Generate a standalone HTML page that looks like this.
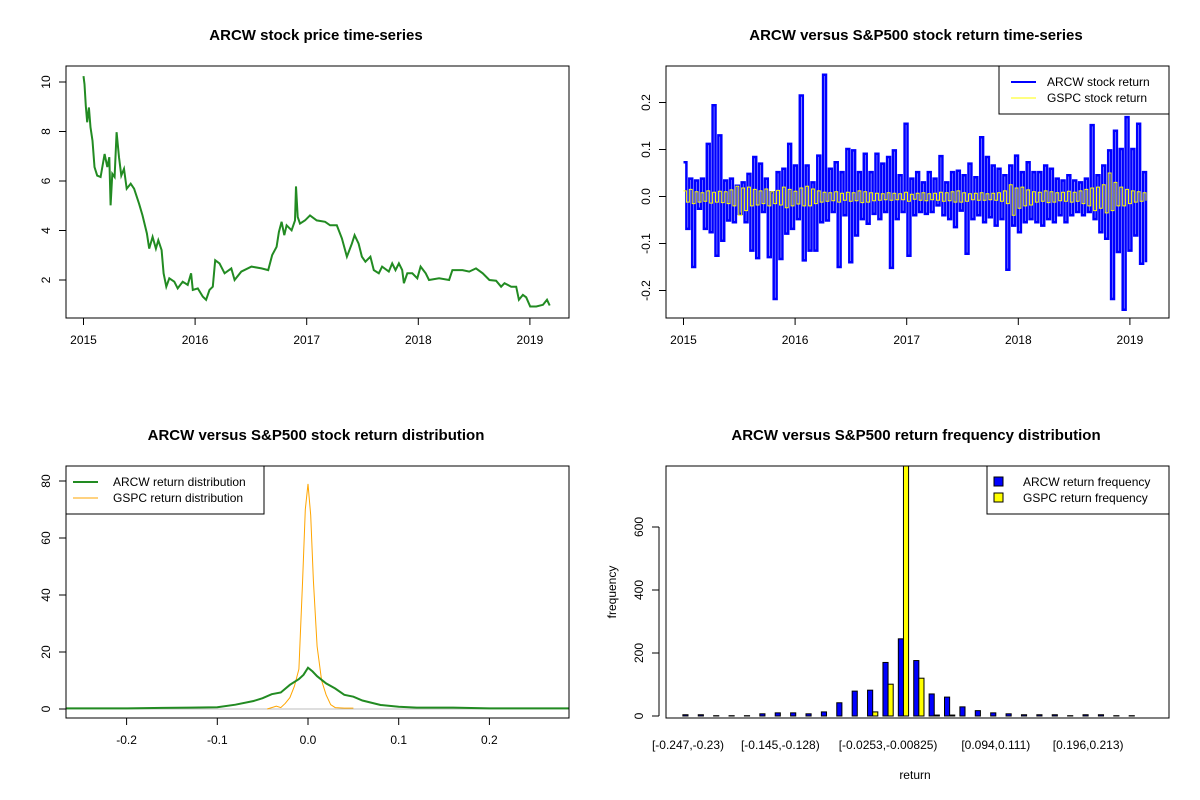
<!DOCTYPE html>
<html><head><meta charset="utf-8"><style>
html,body{margin:0;padding:0;background:#fff;}
svg{display:block;font-family:"Liberation Sans",Arial,sans-serif;}
.t{font-size:12px;fill:#000;}
.ti{font-size:15px;font-weight:bold;fill:#000;}
</style></head><body>
<svg id="c" width="1200" height="800" viewBox="0 0 1200 800"></svg>
<script>
// ---- Panel 1: ARCW price ----
const priceT=[0.00,0.009,0.021,0.033,0.048,0.063,0.081,0.099,0.123,0.153,0.189,0.213,0.231,0.243,0.258,0.279,0.297,0.318,0.339,0.363,0.387,0.423,0.453,0.498,0.529,0.568,0.589,0.619,0.649,0.670,0.700,0.718,0.742,0.769,0.814,0.844,0.889,0.934,0.964,0.979,1.024,1.069,1.099,1.129,1.159,1.180,1.219,1.264,1.324,1.354,1.414,1.505,1.595,1.655,1.691,1.730,1.751,1.775,1.799,1.820,1.865,1.895,1.904,1.919,1.940,1.985,2.030,2.090,2.165,2.210,2.270,2.315,2.360,2.405,2.429,2.465,2.495,2.526,2.571,2.601,2.646,2.676,2.736,2.766,2.796,2.826,2.856,2.871,2.901,2.946,2.991,3.021,3.066,3.096,3.186,3.276,3.306,3.396,3.456,3.517,3.577,3.637,3.697,3.742,3.772,3.832,3.877,3.901,3.937,3.967,4.003,4.057,4.117,4.153,4.177];
const priceV=[10.24,9.91,9.04,8.37,8.97,8.17,7.63,6.56,6.22,6.16,7.09,6.56,6.96,5.02,6.29,6.16,7.97,6.96,6.22,6.49,5.69,5.89,5.69,5.08,4.61,3.88,3.27,3.74,3.27,3.61,3.21,2.27,1.73,2.07,1.93,1.66,1.93,1.80,2.27,1.60,1.66,1.33,1.20,1.60,1.73,2.80,2.67,2.27,2.47,2.00,2.34,2.54,2.47,2.40,3.01,3.34,3.94,4.35,3.81,4.21,4.01,4.41,5.78,4.55,4.28,4.41,4.61,4.41,4.35,4.21,4.21,3.68,2.94,3.47,3.81,3.47,2.94,2.74,2.94,2.40,2.27,2.54,2.34,2.67,2.40,2.67,2.40,1.87,2.27,2.27,2.07,2.54,2.27,2.00,2.07,2.00,2.40,2.40,2.34,2.47,2.27,2.00,1.97,1.73,1.87,1.73,1.73,1.20,1.40,1.30,0.93,0.93,1.00,1.20,0.97];
const priceYTicks=[2,4,6,8,10];
const yearTicks=[2015,2016,2017,2018,2019];
// ---- Panel 2: returns (alternating up/down values) ----
const arcwUp=[0.073,0.038,0.034,0.038,0.112,0.194,0.13,0.034,0.038,0.023,0.03,0.048,0.084,0.07,0.038,0.009,0.052,0.059,0.112,0.066,0.215,0.066,0.03,0.087,0.259,0.059,0.073,0.052,0.101,0.098,0.052,0.091,0.052,0.091,0.07,0.084,0.098,0.045,0.155,0.038,0.052,0.03,0.052,0.038,0.086,0.03,0.052,0.055,0.045,0.07,0.041,0.126,0.084,0.066,0.059,0.045,0.066,0.087,0.052,0.073,0.052,0.052,0.066,0.059,0.038,0.034,0.045,0.034,0.03,0.038,0.152,0.045,0.066,0.098,0.14,0.101,0.169,0.101,0.155,0.052];
const arcwDown=[-0.069,-0.15,-0.026,-0.069,-0.076,-0.126,-0.094,-0.051,-0.055,-0.037,-0.055,-0.115,-0.131,-0.033,-0.129,-0.218,-0.133,-0.079,-0.069,-0.048,-0.136,-0.115,-0.115,-0.055,-0.051,-0.033,-0.15,-0.04,-0.14,-0.083,-0.048,-0.058,-0.037,-0.048,-0.033,-0.152,-0.048,-0.033,-0.126,-0.04,-0.033,-0.037,-0.033,-0.019,-0.04,-0.048,-0.065,-0.03,-0.122,-0.048,-0.04,-0.055,-0.044,-0.062,-0.048,-0.156,-0.062,-0.076,-0.055,-0.048,-0.055,-0.062,-0.048,-0.055,-0.04,-0.055,-0.04,-0.033,-0.04,-0.033,-0.048,-0.076,-0.09,-0.218,-0.118,-0.241,-0.115,-0.083,-0.143,-0.14];
const gspcUp=[0.012,0.015,0.01,0.008,0.012,0.009,0.011,0.01,0.014,0.022,0.018,0.02,0.015,0.012,0.016,0.01,0.013,0.02,0.015,0.011,0.018,0.022,0.016,0.012,0.009,0.008,0.01,0.007,0.009,0.008,0.012,0.01,0.008,0.007,0.006,0.008,0.007,0.006,0.009,0.005,0.007,0.008,0.006,0.007,0.009,0.008,0.01,0.012,0.008,0.006,0.007,0.008,0.006,0.007,0.008,0.012,0.025,0.018,0.02,0.014,0.01,0.009,0.012,0.01,0.008,0.009,0.011,0.009,0.012,0.015,0.018,0.02,0.025,0.05,0.03,0.02,0.015,0.012,0.01,0.008];
const gspcDown=[-0.012,-0.015,-0.012,-0.01,-0.014,-0.012,-0.013,-0.015,-0.02,-0.04,-0.03,-0.02,-0.018,-0.015,-0.02,-0.015,-0.018,-0.024,-0.02,-0.016,-0.02,-0.02,-0.015,-0.012,-0.01,-0.009,-0.012,-0.008,-0.01,-0.009,-0.013,-0.012,-0.009,-0.008,-0.007,-0.008,-0.007,-0.007,-0.01,-0.006,-0.008,-0.009,-0.007,-0.008,-0.01,-0.009,-0.012,-0.012,-0.01,-0.007,-0.008,-0.008,-0.007,-0.008,-0.01,-0.015,-0.04,-0.025,-0.02,-0.018,-0.012,-0.01,-0.013,-0.012,-0.009,-0.01,-0.012,-0.01,-0.015,-0.02,-0.03,-0.025,-0.035,-0.03,-0.02,-0.02,-0.015,-0.012,-0.01,-0.009];
const retYTicks=[-0.2,-0.1,0.0,0.1,0.2];
// ---- Panel 3: densities ----
const arcwDX=[-0.27,-0.2,-0.16,-0.13,-0.1,-0.08,-0.06,-0.05,-0.04,-0.03,-0.02,-0.01,-0.005,0,0.005,0.01,0.02,0.03,0.04,0.05,0.06,0.08,0.1,0.12,0.16,0.2,0.29];
const arcwDY=[0.2,0.2,0.4,0.5,0.6,1.5,2.8,3.8,5.2,5.8,8.5,10.5,12,14.5,13.2,11.5,9,7.2,5,4.3,3,1.4,0.8,0.5,0.5,0.2,0.2];
const gspcDX=[-0.045,-0.04,-0.035,-0.03,-0.025,-0.02,-0.015,-0.01,-0.006,-0.003,0,0.003,0.006,0.01,0.015,0.02,0.025,0.03,0.04,0.05];
const gspcDY=[0,0.5,1,0.5,2,4,8,14,45,70,79,68,45,22,10,5,1.5,0.5,0.3,0.3];
const densXTicks=[-0.2,-0.1,0.0,0.1,0.2];
const densYTicks=[0,20,40,60,80];
// ---- Panel 4: histogram ----
const binLabels=["[-0.247,-0.23)","[-0.145,-0.128)","[-0.0253,-0.00825)","[0.094,0.111)","[0.196,0.213)"];
const binLabelIdx=[0,6,13,20,26];
const arcwFreq=[4,4,1,1,1,7,10,10,7,13,42,79,82,170,245,176,70,60,29,17,10,7,4,4,4,1,4,4,1,1];
const gspcFreq=[0,0,0,0,0,0,0,0,0,0,0,0,13,101,880,120,3,3,0,0,0,0,0,0,0,0,0,0,0,0];
const freqYTicks=[0,200,400,600];

const svg=document.getElementById('c');
const NS='http://www.w3.org/2000/svg';
function mk(tag,attrs,parent){const e=document.createElementNS(NS,tag);for(const k in attrs)e.setAttribute(k,attrs[k]);(parent||svg).appendChild(e);return e;}
function txt(x,y,s,cls,anchor,rot,parent){const e=mk('text',{x:x,y:y,class:cls,'text-anchor':anchor||'middle'},parent);if(rot)e.setAttribute('transform','rotate(-90 '+x+' '+y+')');e.textContent=s;return e;}
function panel(name){const g=mk('g',{});return g;}
function box(g,x0,y0,x1,y1){const r=mk('rect',{x:x0,y:y0,width:x1-x0,height:y1-y0,fill:'none',stroke:'#000','stroke-width':1},g);}
function xAxis(g,ticks,fx,y,fmt){const a=mk('g',{},g);
 mk('line',{x1:fx(ticks[0]),x2:fx(ticks[ticks.length-1]),y1:y,y2:y,stroke:'#000'},a);
 ticks.forEach(t=>{mk('line',{x1:fx(t),x2:fx(t),y1:y,y2:y+7,stroke:'#000'},a);txt(fx(t),y+26,fmt(t),'t','middle',false,a);});}
function yAxis(g,ticks,fy,x,fmt){const a=mk('g',{},g);
 mk('line',{x1:x,x2:x,y1:fy(ticks[0]),y2:fy(ticks[ticks.length-1]),stroke:'#000'},a);
 ticks.forEach(t=>{mk('line',{x1:x,x2:x-7,y1:fy(t),y2:fy(t),stroke:'#000'},a);txt(x-16,fy(t),fmt(t),'t','middle',true,a);});}
function poly(g,pts,color,w,name){const p=mk('polyline',{points:pts.map(p=>p[0].toFixed(1)+','+p[1].toFixed(1)).join(' '),fill:'none',stroke:color,'stroke-width':w,'stroke-linejoin':'miter'},g);return p;}
function stepPts(vals){const o=[];vals.forEach((p,i)=>{if(i>0)o.push([p[0],vals[i-1][1]]);o.push(p);});return o;}

// Panel 1
{const g=panel('price-panel');
 const fx=t=>83.5+(t-2015)*111.6, fy=v=>280-(v-2)*24.75;
 txt(316,40,'ARCW stock price time-series','ti','middle',false,g);
 poly(g,priceT.map((t,i)=>[fx(2015+t),fy(priceV[i])]),'#228B22',2,'price-line');
 box(g,66,66,569,318);
 xAxis(g,yearTicks,fx,318,t=>String(t));
 yAxis(g,priceYTicks,fy,66,t=>String(t));}

// Panel 2
{const g=panel('returns-panel');
 const fx=t=>683.5+(t-2015)*111.6, fy=v=>196.5-v*470;
 txt(916,40,'ARCW versus S&P500 stock return time-series','ti','middle',false,g);
 const n=arcwUp.length, span=4.17;
 const a=[];arcwUp.forEach((u,i)=>{const t=2015+span*i/n;a.push([fx(t),fy(u)]);a.push([fx(t+span/(2*n)),fy(arcwDown[i])]);});
 poly(g,stepPts(a),'#0000FF',2.5,'arcw-return-line');
 const m=gspcUp.length,b=[];gspcUp.forEach((u,i)=>{const t=2015+span*i/m;b.push([fx(t),fy(u)]);b.push([fx(t+span/(2*m)),fy(gspcDown[i])]);});
 poly(g,stepPts(b),'#FFFF00',1,'gspc-return-line');
 box(g,666,66,1169,318);
 xAxis(g,yearTicks,fx,318,t=>String(t));
 yAxis(g,retYTicks,fy,666,t=>t.toFixed(1));
 const L=mk('g',{},g);
 mk('rect',{x:999,y:66,width:170,height:48,fill:'#fff',stroke:'#000'},L);
 mk('line',{x1:1011,x2:1036,y1:82,y2:82,stroke:'#0000FF','stroke-width':2},L);
 mk('line',{x1:1011,x2:1036,y1:98,y2:98,stroke:'#FFFF00','stroke-width':1},L);
 txt(1047,86,'ARCW stock return','t','start',false,L);txt(1047,102,'GSPC stock return','t','start',false,L);}

// Panel 3
{const g=panel('density-panel');
 const fx=v=>308+v*907, fy=v=>709-v*2.85;
 txt(316,440,'ARCW versus S&P500 stock return distribution','ti','middle',false,g);
 const z=mk('line',{x1:66,x2:569,y1:fy(0),y2:fy(0),stroke:'#bebebe'},g);
 poly(g,gspcDX.map((x,i)=>[fx(x),fy(gspcDY[i])]),'#FFA500',1,'gspc-density-line');
 poly(g,arcwDX.map((x,i)=>[Math.max(66,Math.min(569,fx(x))),fy(arcwDY[i])]),'#228B22',2,'arcw-density-line');
 box(g,66,466,569,718);
 xAxis(g,densXTicks,fx,718,t=>t.toFixed(1));
 yAxis(g,densYTicks,fy,66,t=>String(t));
 const L=mk('g',{},g);
 mk('rect',{x:66,y:466,width:198,height:48,fill:'#fff',stroke:'#000'},L);
 mk('line',{x1:73,x2:98,y1:482,y2:482,stroke:'#228B22','stroke-width':2},L);
 mk('line',{x1:73,x2:98,y1:498,y2:498,stroke:'#FFA500','stroke-width':1},L);
 txt(113,486,'ARCW return distribution','t','start',false,L);txt(113,502,'GSPC return distribution','t','start',false,L);}

// Panel 4
{const g=panel('histogram-panel');
 const u=5.13, fx=k=>688+(k-2)*u, fy=v=>716-v*0.315;
 txt(916,440,'ARCW versus S&P500 return frequency distribution','ti','middle',false,g);
 const clip=mk('clipPath',{id:'hc'},g);mk('rect',{x:666,y:466,width:503,height:252},clip);
 const bars=mk('g',{'clip-path':'url(#hc)'},g);
 arcwFreq.forEach((v,i)=>{const r=mk('rect',{x:fx(3*i+1),y:fy(v),width:u,height:Math.max(0,fy(0)-fy(v)),fill:'#0000FF',stroke:'#000','stroke-width':1},bars);
  
  });
 gspcFreq.forEach((v,i)=>{const r=mk('rect',{x:fx(3*i+2),y:fy(v),width:u,height:Math.max(0,fy(0)-fy(v)),fill:'#FFFF00',stroke:'#000','stroke-width':1},bars);
  
  });
 box(g,666,466,1169,718);
 yAxis(g,freqYTicks,fy,659,t=>String(t));
 binLabelIdx.forEach((k,j)=>{const t=txt(fx(3*k+2),749,binLabels[j],'t','middle',false,g);});
 txt(915,779,'return','t','middle',false,g);
 txt(616,592,'frequency','t','middle',true,g);
 const L=mk('g',{},g);
 mk('rect',{x:987,y:466,width:182,height:48,fill:'#fff',stroke:'#000'},L);
 mk('rect',{x:994,y:477,width:9,height:9,fill:'#0000FF',stroke:'#000'},L);
 mk('rect',{x:994,y:493,width:9,height:9,fill:'#FFFF00',stroke:'#000'},L);
 txt(1023,486,'ARCW return frequency','t','start',false,L);txt(1023,502,'GSPC return frequency','t','start',false,L);}
</script>
</body></html>
